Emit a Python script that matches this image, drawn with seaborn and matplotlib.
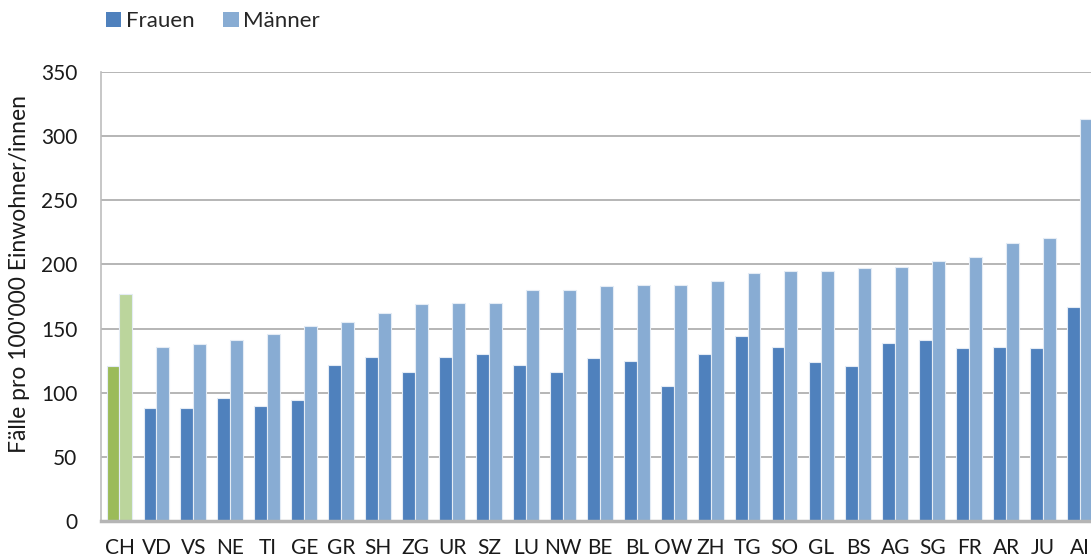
import matplotlib
matplotlib.use("Agg")
import matplotlib.pyplot as plt
import pandas as pd
import seaborn as sns
from matplotlib.patches import Patch

kantone = ["CH", "VD", "VS", "NE", "TI", "GE", "GR", "SH", "ZG", "UR", "SZ", "LU", "NW", "BE",
           "BL", "OW", "ZH", "TG", "SO", "GL", "BS", "AG", "SG", "FR", "AR", "JU", "AI"]
frauen = [121, 88, 88, 96, 90, 94, 122, 128, 116, 128, 130, 122, 116, 127,
          125, 105, 130, 144, 136, 124, 121, 139, 141, 135, 136, 135, 167]
maenner = [177, 136, 138, 141, 146, 152, 155, 162, 169, 170, 170, 180, 180, 183,
           184, 184, 187, 193, 195, 195, 197, 198, 203, 206, 217, 221, 313]
gruppen = ["Frauen", "Männer"]
farben = ["#4F81BD", "#88ACD3"]
farben_ch = ["#9BBB59", "#BBD59C"]
y_ticks = [0, 50, 100, 150, 200, 250, 300, 350]

df = pd.DataFrame({
    "kanton": kantone * 2,
    "geschlecht": [gruppen[0]] * len(kantone) + [gruppen[1]] * len(kantone),
    "faelle": frauen + maenner,
})

sns.set_theme(style="white")
plt.rcParams["font.family"] = ["Lato", "DejaVu Sans"]

fig = plt.figure(figsize=(10.91, 5.6), dpi=100)
ax = fig.add_axes([0.0926, 0.0696, 0.9143, 0.8018])

sns.barplot(
    data=df,
    x="kanton",
    y="faelle",
    hue="geschlecht",
    hue_order=gruppen,
    order=kantone,
    palette=farben,
    width=0.7,
    saturation=1,
    edgecolor="#E4ECF5",
    linewidth=0.8,
    legend=False,
    ax=ax,
)

# Schweiz-Total in Gruen hervorheben
for container, farbe in zip(ax.containers, farben_ch):
    container.patches[0].set_facecolor(farbe)

ax.set_ylim(0, 350)
ax.set_xlim(-0.5, len(kantone) - 0.5)
ax.set_yticks(y_ticks)
ax.yaxis.grid(True, color="#B5B5B5", linewidth=1.4)
ax.set_axisbelow(True)
ax.tick_params(axis="both", length=0, colors="#1A1A1A")
ax.tick_params(axis="y", pad=17, labelsize=15)
ax.tick_params(axis="x", pad=12, labelsize=15)

for side in ["top", "right"]:
    ax.spines[side].set_visible(False)
ax.spines["left"].set_color("#BDBDBD")
ax.spines["left"].set_linewidth(1.2)
ax.spines["bottom"].set_color("#B5B5B5")
ax.spines["bottom"].set_linewidth(2.5)

ax.set_xlabel("")
ax.set_ylabel("Fälle pro 100'000 Einwohner/innen", fontsize=16.5, color="#1A1A1A")
ax.yaxis.set_label_coords(-0.071, 0.55)

handles = [Patch(facecolor=c, edgecolor="none") for c in farben]
fig.legend(
    handles,
    gruppen,
    loc="center left",
    bbox_to_anchor=(0.097, 0.962),
    ncol=2,
    frameon=False,
    fontsize=16,
    handlelength=0.7,
    handleheight=0.7,
    handletextpad=0.2,
    columnspacing=1.3,
    borderaxespad=0,
    borderpad=0,
)

fig.savefig("out.png", dpi=100)
